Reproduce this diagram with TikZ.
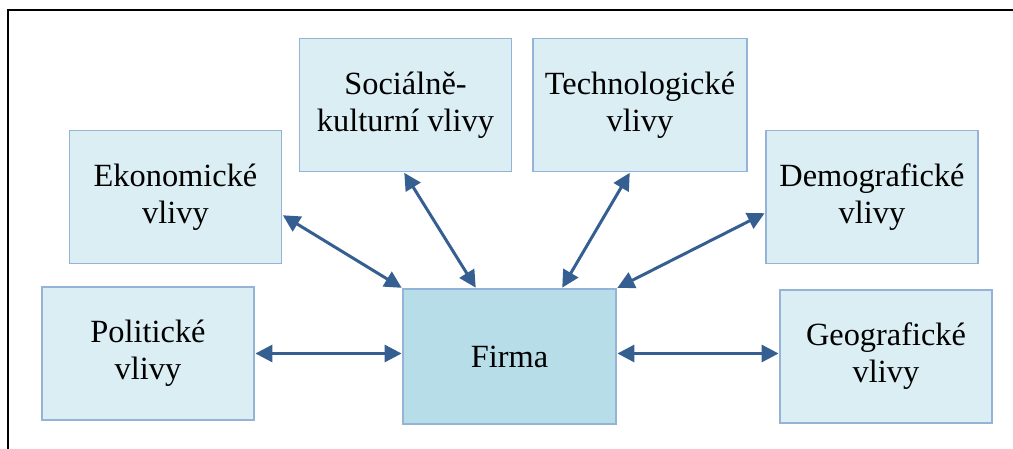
\documentclass[tikz,border=0pt]{standalone}
\usepackage{fontspec}
\setmainfont{Liberation Serif}
\usetikzlibrary{arrows.meta}
\definecolor{boxfill}{HTML}{DBEEF4}
\definecolor{firmafill}{HTML}{B7DDE8}
\definecolor{boxline}{HTML}{95B3D7}
\definecolor{arrowcol}{HTML}{365F91}
\tikzset{
  infl/.style={rectangle, draw=boxline, fill=boxfill, line width=1.8bp,
    minimum width=212bp, minimum height=133bp, align=center, inner sep=2bp,
    font=\fontsize{32.5}{37}\selectfont},
  firmabox/.style={infl, fill=firmafill, minimum height=135bp},
  link/.style={arrowcol, line width=3bp,
    {Triangle[length=17bp,width=17bp]}-{Triangle[length=17bp,width=17bp]}, shorten <=0.5bp, shorten >=0.5bp}
}
\begin{document}
\begin{tikzpicture}[x=1bp,y=-1bp]
\useasboundingbox (0,0) rectangle (1013,449);
\draw[line width=2.5bp, black] (8,449) -- (8,10) -- (1013,10);

\node[infl] (ekon) at (175.5,197) {Ekonomické\\vlivy};
\node[infl] (soc) at (405.5,105) {Sociálně-\\kulturní vlivy};
\node[infl, minimum width=214bp] (tech) at (640,105) {Technologické\\vlivy};
\node[infl] (demo) at (872,197) {Demografické\\vlivy};
\node[infl] (polit) at (148,353.5) {Politické\\vlivy};
\node[firmabox, minimum width=213bp] (firma) at (509.5,356.5) {Firma};
\node[infl] (geo) at (886,356.5) {Geografické\\vlivy};

\draw[link] ([yshift=-18bp]ekon.east) -- (firma.north west);
\draw[link] ([xshift=-1.5bp]soc.south) -- ([xshift=-33.5bp]firma.north);
\draw[link] ([xshift=-10bp]tech.south) -- ([xshift=52.5bp]firma.north);
\draw[link] ([yshift=-16bp]demo.west) -- (firma.north east);
\draw[link] (polit.east) -- (polit.east -| firma.west);
\draw[link] ([yshift=3bp]firma.east) -- ([yshift=3bp]firma.east -| geo.west);
\end{tikzpicture}
\end{document}
